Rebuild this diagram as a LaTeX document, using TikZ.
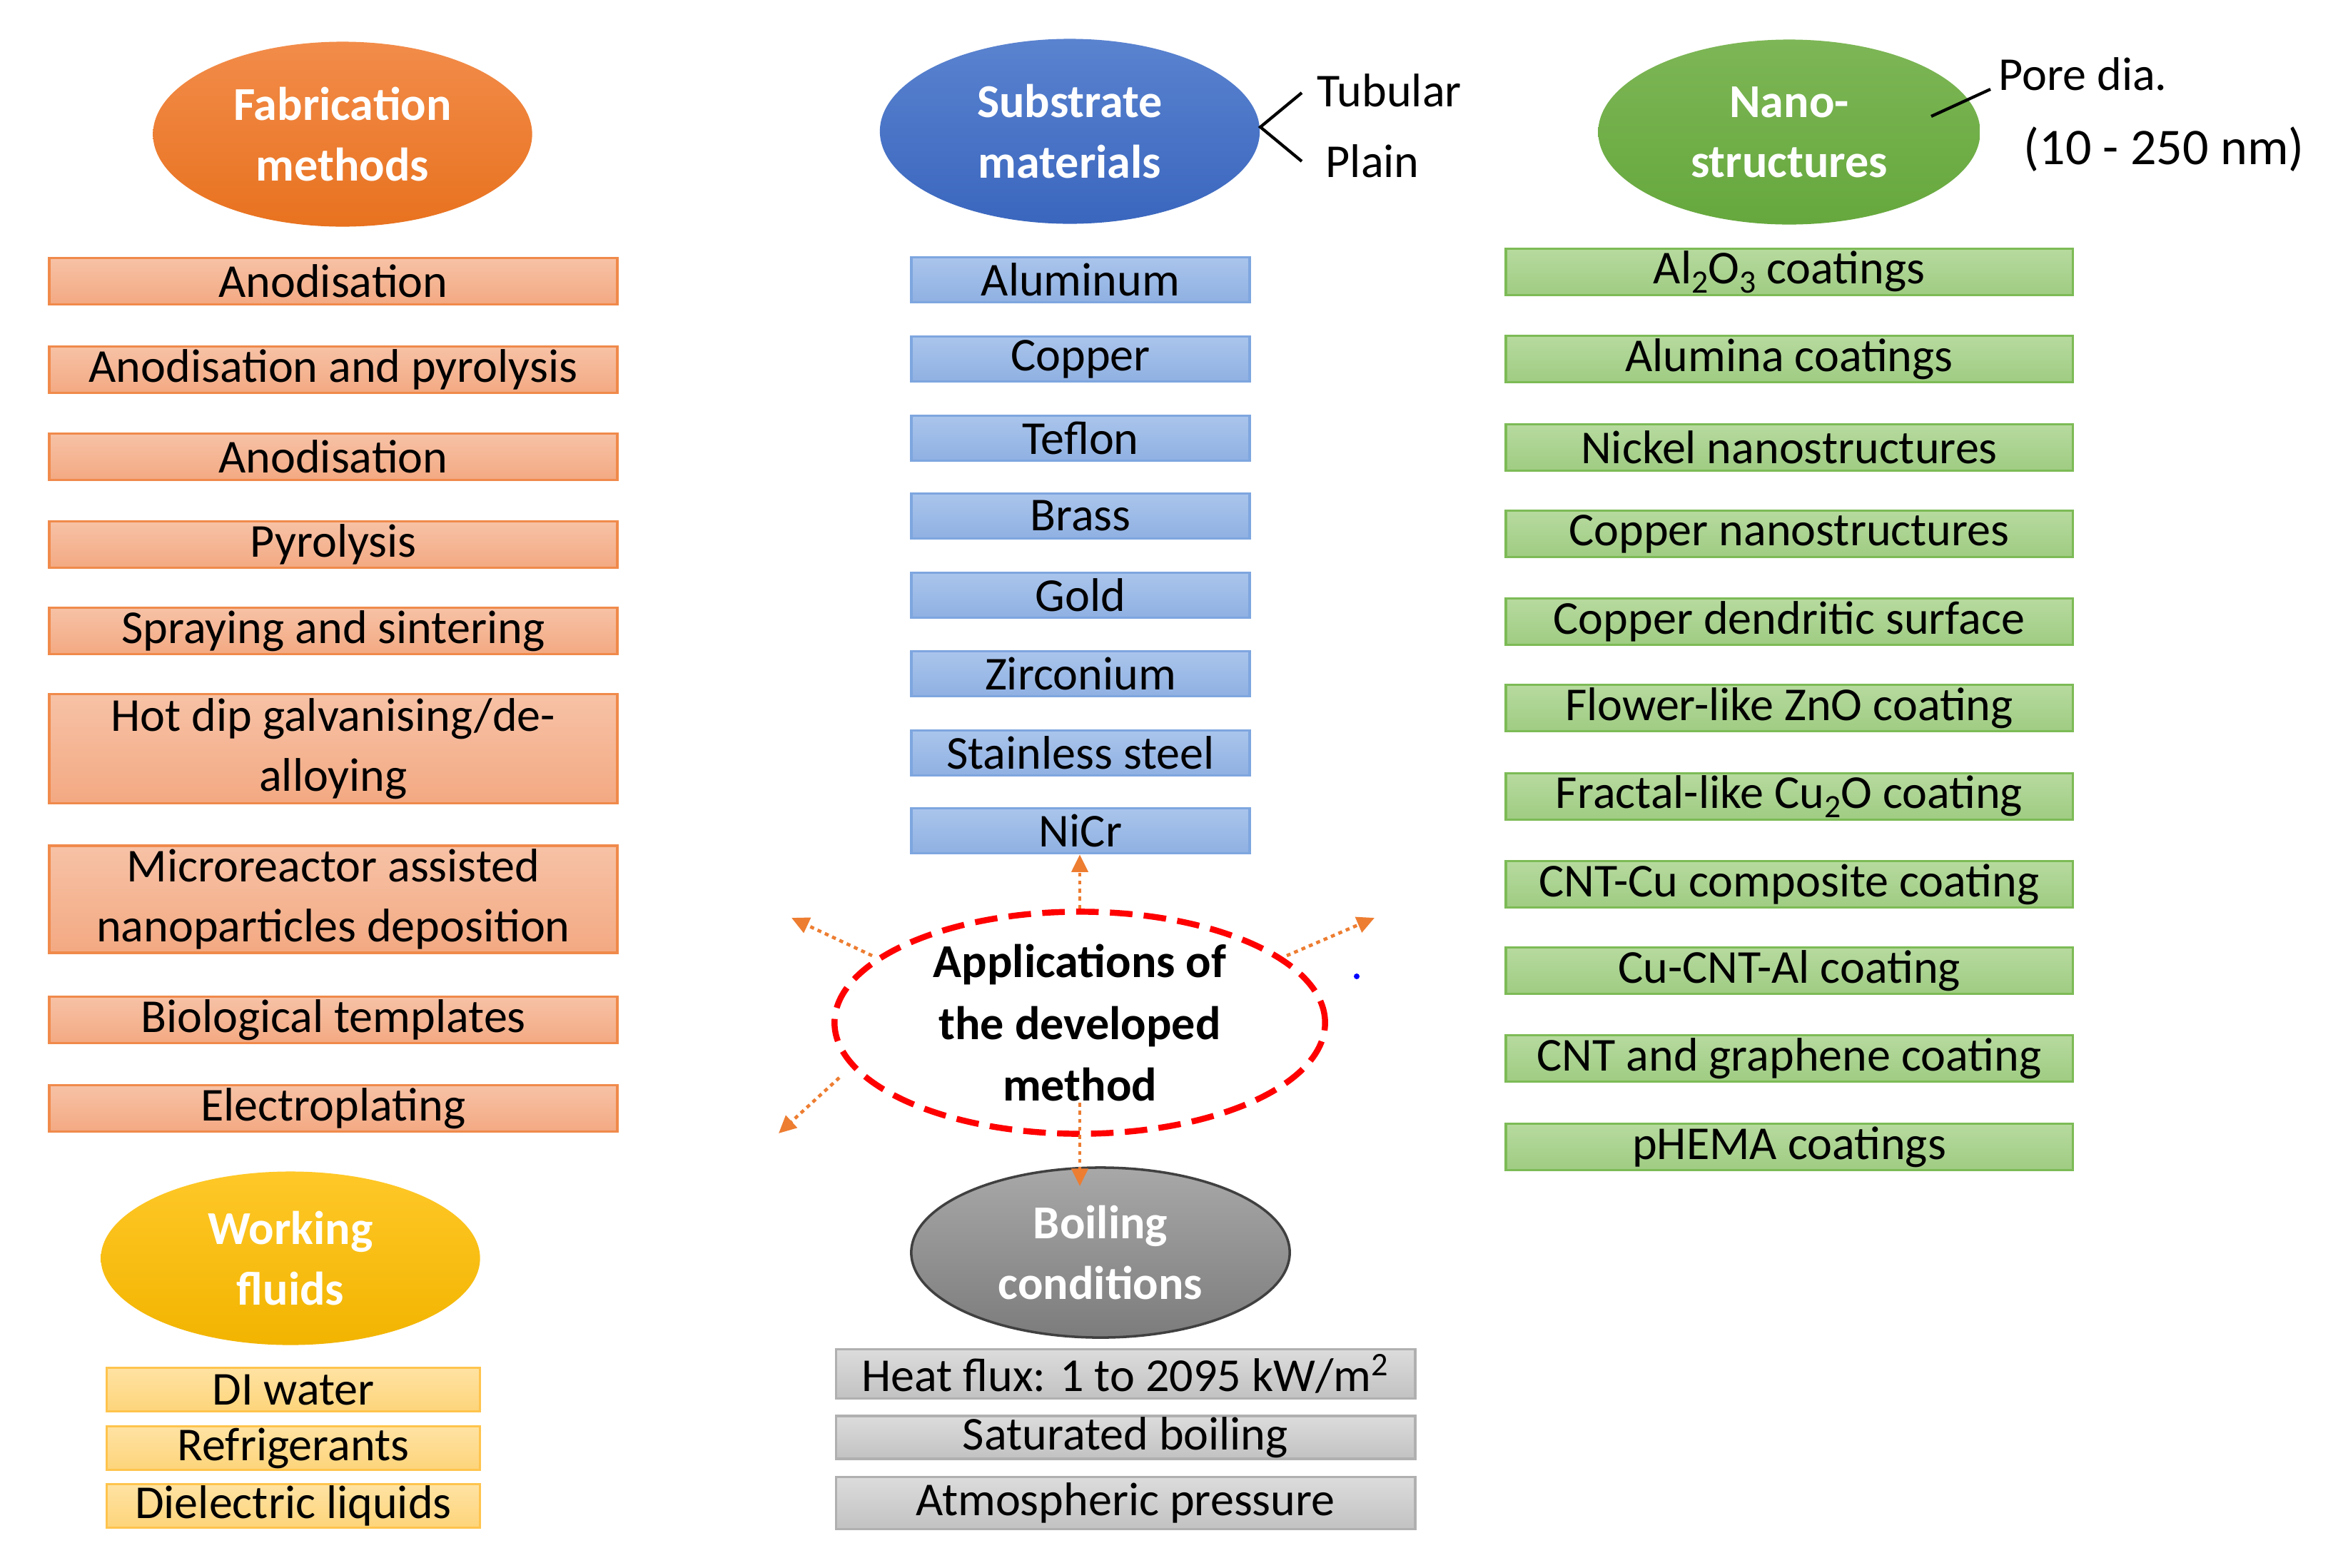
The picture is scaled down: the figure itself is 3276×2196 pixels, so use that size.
\documentclass[tikz,border=0pt]{standalone}
\usepackage{fontspec}
\setmainfont{Carlito}
\usetikzlibrary{shapes.geometric,arrows.meta}
\newcommand{\mysub}[1]{\raisebox{-0.42ex}{\fontsize{13}{13}\selectfont #1}}
\definecolor{oEllT}{HTML}{F28C4A}
\definecolor{oEllB}{HTML}{E8721F}
\definecolor{oBoxT}{HTML}{F7C2A6}
\definecolor{oBoxB}{HTML}{F3A982}
\definecolor{oLine}{HTML}{F08A4B}
\definecolor{bEllT}{HTML}{5A83CF}
\definecolor{bEllB}{HTML}{3A66BE}
\definecolor{bBoxT}{HTML}{AAC5EC}
\definecolor{bBoxB}{HTML}{8FB0E2}
\definecolor{bLine}{HTML}{7EA6DF}
\definecolor{gEllT}{HTML}{7DB656}
\definecolor{gEllB}{HTML}{66A83D}
\definecolor{gBoxT}{HTML}{B7DA9F}
\definecolor{gBoxB}{HTML}{9FCC82}
\definecolor{gLine}{HTML}{7DBB56}
\definecolor{yEllT}{HTML}{FFC828}
\definecolor{yEllB}{HTML}{F2B400}
\definecolor{yBoxT}{HTML}{FFE3A3}
\definecolor{yBoxB}{HTML}{FDD47A}
\definecolor{yLine}{HTML}{FFC44D}
\definecolor{kEllT}{HTML}{A8A8A8}
\definecolor{kEllB}{HTML}{7C7C7C}
\definecolor{kEllL}{HTML}{404040}
\definecolor{kBoxT}{HTML}{DCDCDC}
\definecolor{kBoxB}{HTML}{C2C2C2}
\definecolor{kLine}{HTML}{B0B0B0}
\definecolor{arrOr}{HTML}{ED7D31}
\definecolor{appRed}{HTML}{FF0000}
\begin{document}
\begin{tikzpicture}[x=0.01cm,y=-0.01cm,
  every node/.style={font=\fontsize{18.8}{24}\selectfont},
  title/.style={ellipse, inner sep=0pt, minimum width=5.31cm, minimum height=2.59cm,
    text=white, align=center, font=\fontsize{18.8}{24}\selectfont\bfseries},
  basebox/.style={rectangle, inner sep=0pt, line width=1pt, align=center},
  obox/.style={basebox, minimum width=7.96cm, minimum height=0.65cm,
    top color=oBoxT, bottom color=oBoxB, draw=oLine},
  bbox/.style={basebox, minimum width=4.74cm, minimum height=0.63cm,
    top color=bBoxT, bottom color=bBoxB, draw=bLine},
  gbox/.style={basebox, minimum width=7.94cm, minimum height=0.65cm,
    top color=gBoxT, bottom color=gBoxB, draw=gLine},
  ybox/.style={basebox, minimum width=5.23cm, minimum height=0.61cm,
    top color=yBoxT, bottom color=yBoxB, draw=yLine},
  kbox/.style={basebox, minimum width=8.11cm, minimum height=0.66cm,
    top color=kBoxT, bottom color=kBoxB, draw=kLine},
  plain/.style={inner sep=0pt, anchor=west},
  arr/.style={draw=arrOr, line width=1.3pt, dash pattern=on 1.6pt off 1.6pt,
    -{Triangle[length=7pt,width=6.5pt]}, arrOr},
]
\useasboundingbox (0,0) rectangle (3276,2196);

% ---------- Fabrication methods ----------
\node[title, top color=oEllT, bottom color=oEllB] (fab) at (480,188) {Fabrication\\methods};
\node[obox] (f1) at (467,394) {Anodisation};
\node[obox] (f2) at (467,518) {Anodisation and pyrolysis};
\node[obox] (f3) at (467,640) {Anodisation};
\node[obox] (f4) at (467,763) {Pyrolysis};
\node[obox] (f5) at (467,884) {Spraying and sintering};
\node[obox, minimum height=1.53cm] (f6) at (467,1049) {Hot dip galvanising/de-\\alloying};
\node[obox, minimum height=1.50cm] (f7) at (467,1260) {Microreactor assisted\\nanoparticles deposition};
\node[obox] (f8) at (467,1429) {Biological templates};
\node[obox] (f9) at (467,1553) {Electroplating};

% ---------- Working fluids ----------
\node[title, minimum height=2.43cm, top color=yEllT, bottom color=yEllB] (work) at (407,1763) {Working\\fluids};
\node[ybox] (w1) at (411,1947) {DI water};
\node[ybox] (w2) at (411,2029) {Refrigerants};
\node[ybox] (w3) at (411,2110) {Dielectric liquids};

% ---------- Substrate materials ----------
\node[title, minimum width=5.32cm, top color=bEllT, bottom color=bEllB] (sub) at (1499,184) {Substrate\\materials};
\node[plain] (tub) at (1845,127) {Tubular};
\node[plain] (pla) at (1857,226) {Plain};
\coordinate (tubA) at (1824,130);
\coordinate (plaA) at (1824,226);
\coordinate (subE) at (1766,178);
\draw[line width=1.2pt] (tubA) -- (subE) -- (plaA);

\node[bbox] (s1) at (1514,392) {Aluminum};
\node[bbox] (s2) at (1514,503) {Copper};
\node[bbox] (s3) at (1514,614) {Teflon};
\node[bbox] (s4) at (1514,723) {Brass};
\node[bbox] (s5) at (1514,834) {Gold};
\node[bbox] (s6) at (1514,944) {Zirconium};
\node[bbox] (s7) at (1514,1055) {Stainless steel};
\node[bbox] (nicr) at (1514,1164) {NiCr};

% ---------- Nano-structures ----------
\node[title, minimum width=5.35cm, top color=gEllT, bottom color=gEllB] (nano) at (2507,185) {Nano-\\structures};
\node[plain] (pore) at (2800,104) {Pore dia.};
\node[plain, font=\fontsize{20.5}{24}\selectfont] (range) at (2835,209) {(10 - 250 nm)};
\coordinate (poreA) at (2706,163);
\coordinate (poreB) at (2789,125);
\draw[line width=1.2pt] (poreA) -- (poreB);

\node[gbox] (n1) at (2507,381) {Al\mysub{2}O\mysub{3} coatings};
\node[gbox] (n2) at (2507,503) {Alumina coatings};
\node[gbox] (n3) at (2507,627) {Nickel nanostructures};
\node[gbox] (n4) at (2507,748) {Copper nanostructures};
\node[gbox] (n5) at (2507,871) {Copper dendritic surface};
\node[gbox] (n6) at (2507,992) {Flower-like ZnO coating};
\node[gbox] (n7) at (2507,1116) {Fractal-like Cu\mysub{2}O coating};
\node[gbox] (n8) at (2507,1239) {CNT-Cu composite coating};
\node[gbox] (n9) at (2507,1360) {Cu-CNT-Al coating};
\node[gbox] (n10) at (2507,1483) {CNT and graphene coating};
\node[gbox] (n11) at (2507,1607) {pHEMA coatings};

% ---------- Boiling conditions ----------
\node[title, minimum width=5.30cm, minimum height=2.38cm, top color=kEllT, bottom color=kEllB,
  draw=kEllL, line width=1pt] (boil) at (1542,1755) {Boiling\\conditions};
\node[kbox, minimum height=0.69cm] (k1) at (1577,1925) {Heat flux: 1 to 2095 kW/m\textsuperscript{2}};
\node[kbox, minimum height=0.60cm] (k2) at (1577,2014) {Saturated boiling};
\node[kbox, minimum height=0.73cm] (k3) at (1577,2106) {Atmospheric pressure};

% ---------- Applications ----------
\node[ellipse, inner sep=0pt, minimum width=6.87cm, minimum height=3.11cm,
  draw=appRed, line width=2.4pt, dash pattern=on 9pt off 4.5pt, align=center,
  font=\fontsize{18.8}{24.5}\selectfont\bfseries] (app) at (1513,1433)
  {Applications of\\the developed\\method};

\coordinate (ulT) at (1222,1339);
\coordinate (ulH) at (1109,1286);
\coordinate (urT) at (1803,1339);
\coordinate (urH) at (1926,1286);
\coordinate (llT) at (1176,1510);
\coordinate (llH) at (1091,1588);
\coordinate (dnT) at (1513,1545);
\coordinate (dnH) at (1513,1662);
\draw[arr] (app.north) -- (app.north |- nicr.south);
\draw[arr] (dnT) -- (dnH);
\draw[arr] (ulT) -- (ulH);
\draw[arr] (urT) -- (urH);
\draw[arr] (llT) -- (llH);

\fill[blue] (1901,1368) circle (4);
\end{tikzpicture}
\end{document}
